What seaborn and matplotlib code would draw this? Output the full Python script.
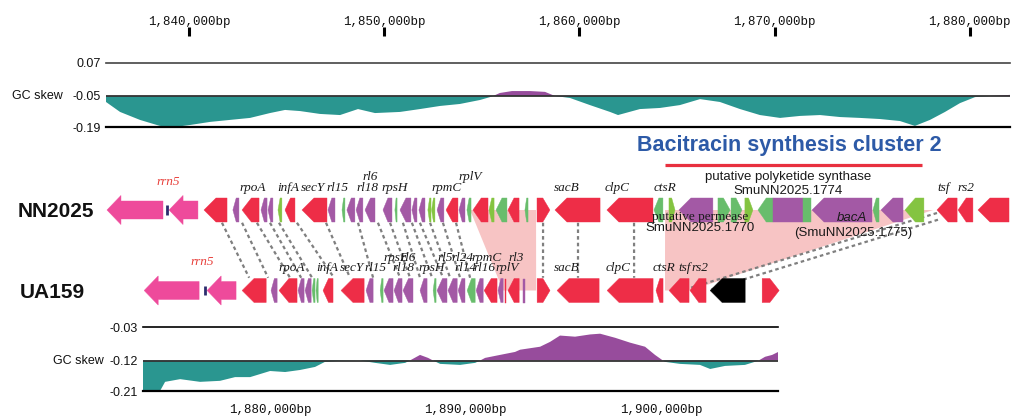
import numpy as np
import matplotlib
matplotlib.use("Agg")
import matplotlib.pyplot as plt
from matplotlib.patches import Polygon
from matplotlib.lines import Line2D
import seaborn as sns

# ---------------- data ----------------
# GC skew, NN2025 (positions in kb)
nn_gc_kb = [1835.75, 1836.47, 1837.49, 1838.51, 1839.28, 1840.05, 1841.08, 1842.10, 1843.13,
            1844.15, 1844.92, 1845.69, 1846.71, 1847.74, 1848.66, 1849.53, 1850.81, 1851.83,
            1852.86, 1853.88, 1854.91, 1855.42, 1855.93, 1856.55, 1857.47, 1858.24, 1858.75,
            1859.52, 1860.54, 1861.57, 1861.98, 1863.10, 1864.13, 1865.15, 1866.18, 1867.20,
            1868.23, 1869.25, 1870.28, 1871.30, 1872.33, 1873.35, 1874.38, 1875.40, 1876.42,
            1877.19, 1877.96, 1878.73, 1879.50, 1880.27, 1881.04, 1882.06]
nn_gc = [-0.077, -0.122, -0.158, -0.185, -0.190, -0.181, -0.167, -0.158, -0.149,
         -0.127, -0.113, -0.118, -0.131, -0.136, -0.109, -0.127, -0.122, -0.109,
         -0.095, -0.086, -0.068, -0.055, -0.039, -0.032, -0.032, -0.035, -0.050,
         -0.059, -0.091, -0.122, -0.136, -0.109, -0.104, -0.091, -0.064, -0.077,
         -0.109, -0.136, -0.149, -0.140, -0.136, -0.145, -0.149, -0.154, -0.163,
         -0.185, -0.158, -0.122, -0.082, -0.055, -0.050, -0.046]

# GC skew, UA159
ua_gc_kb = [1873.50, 1874.37, 1874.63, 1875.40, 1876.42, 1877.44, 1878.21, 1878.98, 1880.00,
            1880.77, 1881.53, 1882.30, 1882.81, 1883.58, 1884.60, 1885.37, 1886.14, 1886.91,
            1887.67, 1888.08, 1888.70, 1889.72, 1890.49, 1891.00, 1891.76, 1892.53, 1892.79,
            1893.81, 1894.32, 1894.83, 1895.60, 1896.37, 1896.88, 1897.65, 1898.41, 1899.18,
            1899.69, 1900.20, 1900.97, 1901.99, 1902.51, 1903.27, 1904.29, 1904.96, 1905.32,
            1905.68, 1905.99]
ua_gc = [-0.207, -0.210, -0.183, -0.175, -0.183, -0.180, -0.169, -0.169, -0.151,
         -0.154, -0.148, -0.139, -0.124, -0.121, -0.120, -0.127, -0.133, -0.127,
         -0.105, -0.113, -0.130, -0.133, -0.127, -0.113, -0.105, -0.097, -0.091,
         -0.083, -0.070, -0.053, -0.056, -0.050, -0.048, -0.059, -0.072, -0.083,
         -0.105, -0.124, -0.130, -0.133, -0.145, -0.136, -0.133, -0.121, -0.110,
         -0.105, -0.097]

# genes NN2025 (kb)
nn_start = [1835.80, 1838.98, 1840.77, 1842.25, 1842.72, 1843.69, 1844.05, 1844.56, 1844.92,
            1845.79, 1847.12, 1847.84, 1848.09, 1848.56, 1849.02, 1849.94, 1850.55, 1850.81,
            1851.42, 1851.78, 1852.24, 1852.43, 1852.71, 1853.17, 1853.83, 1854.24, 1854.55,
            1855.37, 1855.73, 1856.34, 1857.21, 1857.83, 1858.75, 1861.41, 1863.82, 1864.59,
            1865.10, 1867.10, 1867.77, 1868.48, 1869.15, 1869.92, 1871.46, 1871.92, 1875.04,
            1875.45, 1876.68, 1878.32, 1879.40, 1880.42]
nn_end = [1838.67, 1840.46, 1841.95, 1842.56, 1843.59, 1844.00, 1844.30, 1844.76, 1845.43,
          1847.07, 1847.48, 1847.99, 1848.50, 1848.91, 1849.53, 1850.40, 1850.66, 1851.37,
          1851.68, 1852.09, 1852.40, 1852.60, 1853.06, 1853.78, 1854.14, 1854.45, 1855.32,
          1855.63, 1856.29, 1856.91, 1857.37, 1858.49, 1861.06, 1863.77, 1864.28, 1864.90,
          1866.84, 1867.72, 1868.33, 1868.89, 1869.92, 1871.46, 1871.87, 1874.99, 1875.35,
          1876.58, 1877.65, 1879.35, 1880.16, 1882.01]
nn_strand = [-1, -1, -1, -1, -1, -1, -1, -1, -1,
             -1, -1, -1, -1, -1, -1, -1, -1, -1,
             -1, -1, -1, -1, -1, -1, -1, -1, -1,
             -1, -1, -1, -1, 1, -1, -1, -1, 1,
             -1, 1, 1, 1, -1, 0, 0, -1, -1,
             -1, -1, -1, -1, -1]
nn_kind = ["pink", "pink", "red", "purple", "red", "purple", "purple", "lime", "red",
           "red", "purple", "green", "purple", "purple", "purple", "purple", "green", "purple",
           "purple", "purple", "lime", "lime", "purple", "red", "purple", "green", "red",
           "lime", "green", "red", "green", "red", "red", "red", "green", "lime",
           "purple", "green", "green", "lime", "green", "purple", "green", "purple", "green",
           "purple", "lime", "red", "red", "red"]
nn_rrn_tick = [1838.87]

# genes UA159 (kb)
ua_start = [1873.56, 1876.78, 1878.57, 1880.05, 1880.46, 1881.43, 1881.79, 1882.15, 1882.35,
            1882.71, 1883.63, 1884.91, 1885.63, 1885.83, 1886.34, 1886.80, 1887.67, 1888.34,
            1888.54, 1889.10, 1889.62, 1890.08, 1890.54, 1890.95, 1891.66, 1892.02, 1892.17,
            1892.94, 1893.66, 1894.68, 1897.24, 1899.74, 1900.41, 1901.48, 1902.51, 1905.17]
ua_end = [1876.37, 1878.26, 1879.80, 1880.36, 1881.38, 1881.74, 1882.10, 1882.30, 1882.46,
          1883.22, 1884.81, 1885.27, 1885.78, 1886.29, 1886.75, 1887.31, 1888.03, 1888.49,
          1889.05, 1889.57, 1889.97, 1890.49, 1890.90, 1891.61, 1891.92, 1892.07, 1892.74,
          1893.04, 1894.32, 1896.83, 1899.59, 1900.10, 1901.43, 1902.30, 1904.30, 1906.04]
ua_strand = [-1, -1, -1, -1, -1, -1, -1, -1, -1,
             -1, -1, -1, -1, -1, -1, -1, -1, -1,
             -1, -1, -1, -1, -1, -1, -1, 0, -1,
             0, 1, -1, -1, -1, -1, -1, -1, 1]
ua_kind = ["pink", "pink", "red", "purple", "red", "purple", "purple", "green", "green",
           "red", "red", "purple", "green", "purple", "purple", "purple", "purple", "green",
           "purple", "purple", "purple", "green", "purple", "red", "purple", "red", "red",
           "purple", "red", "red", "red", "red", "red", "red", "black", "red"]
ua_rrn_tick = [1876.68]

# gene labels
nn_labels = ["rrn5", "rpoA", "infA", "secY", "rl15", "rl18", "rl6", "rpsH", "rpmC", "rplV",
             "sacB", "clpC", "ctsR", "tsf", "rs2"]
nn_label_kb = [1838.92, 1843.28, 1845.07, 1846.35, 1847.63, 1849.12, 1849.27, 1850.55, 1853.22,
               1854.40, 1859.36, 1861.93, 1864.39, 1878.68, 1879.81]
nn_label_upper = [2, 0, 0, 0, 0, 0, 1, 0, 0, 1, 0, 0, 0, 0, 0]

ua_labels = ["rrn5", "rpoA", "infA", "secY", "rl15", "rl18", "rpsH", "rl14", "rl16", "rplV",
             "rpsE", "rl6", "rl5", "rl24", "rpmC", "rl3", "sacB", "clpC", "ctsR", "tsf", "rs2"]
ua_label_kb = [1876.52, 1881.13, 1882.92, 1884.19, 1885.37, 1886.80, 1888.29, 1889.97, 1890.95,
               1892.12, 1886.45, 1887.06, 1888.95, 1889.82, 1891.10, 1892.58, 1895.19, 1897.80,
               1900.15, 1901.18, 1901.99]
ua_label_upper = [2, 0, 0, 0, 0, 0, 0, 0, 0, 0, 1, 1, 1, 1, 1, 1, 0, 0, 0, 0, 0]

# homologous links (NN2025 kb -> UA159 kb)
link_nn_kb = [1841.69, 1842.72, 1843.48, 1844.15, 1844.61, 1845.53, 1847.02, 1848.66, 1849.68,
              1850.30, 1850.96, 1851.42, 1851.83, 1852.35, 1853.01, 1853.68, 1858.14, 1859.93,
              1862.80]
link_ua_kb = [1878.93, 1879.90, 1881.02, 1881.59, 1882.15, 1883.27, 1884.09, 1885.27, 1886.65,
              1887.16, 1887.67, 1888.29, 1888.85, 1889.21, 1889.72, 1890.23, 1893.96, 1895.75,
              1898.62]
shift_nn_kb = [1878.32, 1878.37]
shift_ua_kb = [1901.48, 1902.51]

# inserted regions (NN2025 start/end, UA159 start/end)
ins_nn = [(1854.40, 1857.78), (1864.39, 1878.12)]
ins_ua = [(1891.92, 1893.61), (1900.20, 1901.48)]

TOP_XLIM = (1835.75, 1882.06)
BOT_XLIM = (1873.50, 1905.98)

# ---------------- style ----------------
sns.set_theme(style="white")
plt.rcParams["font.family"] = ["Liberation Sans", "DejaVu Sans"]

COLORS = {"pink": "#ee4a9b", "red": "#ee2d47", "purple": "#a359a5", "green": "#68bd6c",
          "lime": "#84c441", "black": "#000000"}
TEAL = "#2a9690"
GCPURPLE = "#974c9c"
PINKFILL = "#f7c4c4"

W, H = 1024, 419
fig = plt.figure(figsize=(W / 100, H / 100), dpi=100)


def px_rect(l, t, r, b):
    return [l / W, 1 - b / H, (r - l) / W, (b - t) / H]


def make_scale(lo, base, hi, below_px, above_px):
    def fwd(v):
        v = np.asarray(v, float)
        return np.where(v <= base, (v - lo) / (base - lo) * below_px,
                        below_px + (v - base) / (hi - base) * above_px)

    def inv(p):
        p = np.asarray(p, float)
        return np.where(p <= below_px, lo + p / below_px * (base - lo),
                        base + (p - below_px) / above_px * (hi - base))
    return fwd, inv


def gc_panel(rect, xlim, kb, vals, lo, base, hi, below_px, above_px, ticks, top_color, gc_off):
    ax = fig.add_axes(rect)
    ax.set_yscale("function", functions=make_scale(lo, base, hi, below_px, above_px))
    ax.set_xlim(*xlim)
    ax.set_ylim(lo, hi)
    kb = np.asarray(kb)
    vals = np.asarray(vals)
    ax.fill_between(kb, vals, base, where=vals <= base, interpolate=True, color=TEAL, lw=0)
    ax.fill_between(kb, vals, base, where=vals >= base, interpolate=True, color=GCPURPLE, lw=0)
    ax.axhline(base, color="#333333", lw=1.3)
    sns.despine(ax=ax, left=True, right=True, top=False, bottom=False)
    ax.spines["top"].set_color(top_color)
    ax.spines["top"].set_linewidth(1.2)
    ax.spines["bottom"].set_color("black")
    ax.spines["bottom"].set_linewidth(1.6)
    ax.set_xticks([])
    ax.set_yticks(ticks)
    ax.set_yticklabels([f"{t:.2f}" for t in ticks])
    ax.tick_params(axis="y", length=0, labelsize=9, pad=4, labelcolor="#111111")
    ax.set_facecolor("white")
    ax.annotate("GC skew", xy=(0, base), xycoords=("axes fraction", "data"),
                xytext=(gc_off, 0), textcoords="offset pixels", ha="right", va="center",
                fontsize=9, color="#111111", annotation_clip=False)
    return ax


def scale_panel(rect, xlim, ticks, top):
    ax = fig.add_axes(rect)
    ax.set_xlim(*xlim)
    ax.patch.set_visible(False)
    for s in ax.spines.values():
        s.set_visible(False)
    ax.set_yticks([])
    ax.set_xticks(ticks)
    ax.set_xticklabels([f"{int(round(t * 1000)):,}bp" for t in ticks],
                       fontfamily="Liberation Mono", fontsize=9)
    if top:
        ax.xaxis.tick_top()
        ax.tick_params(axis="x", direction="out", length=6.5, width=2.2, pad=-0.5,
                       color="black", labelcolor="#111111")
    else:
        ax.tick_params(axis="x", direction="out", length=5.8, width=2.2, pad=-2.5,
                       color="black", labelcolor="#111111")
    return ax


def gene_track(rect, xlim, starts, ends, strands, kinds, ticks):
    ax = fig.add_axes(rect)
    ax.set_xlim(*xlim)
    ax.set_ylim(-1, 1)
    ax.axis("off")
    kbpx = (xlim[1] - xlim[0]) / (rect[2] * W)
    for s, e, st, k in zip(starts, ends, strands, kinds):
        L = e - s
        if k == "pink":
            hl, body, head = min(14 * kbpx, 0.55 * L), 0.6, 0.97
        else:
            hl, body, head = min(12 * kbpx, 0.55 * L), 0.8, 0.8
        if st == -1:
            pts = [(s, 0), (s + hl, head), (s + hl, body), (e, body), (e, -body),
                   (s + hl, -body), (s + hl, -head)]
        elif st == 1:
            pts = [(e, 0), (e - hl, head), (e - hl, body), (s, body), (s, -body),
                   (e - hl, -body), (e - hl, -head)]
        else:
            pts = [(s, body), (e, body), (e, -body), (s, -body)]
        ax.add_patch(Polygon(pts, closed=True, facecolor=COLORS[k], edgecolor=COLORS[k],
                             lw=0.3, clip_on=False))
    for t in ticks:
        ax.plot([t, t], [-0.33, 0.33], color="#2b2d6e", lw=2, solid_capstyle="butt")
    return ax


def gene_labels(ax, names, kbs, uppers, ys):
    for n, x, u in zip(names, kbs, uppers):
        col = "#e8413c" if n == "rrn5" else "#1a1a1a"
        ax.text(x, ys[u], n, ha="center", va="center", fontsize=9.5,
                fontfamily="Liberation Serif", fontstyle="italic", color=col, clip_on=False)


# ---------------- panels ----------------
scale_panel(px_rect(106, 36, 1010, 37), TOP_XLIM, [1840, 1850, 1860, 1870, 1880], True)
scale_panel(px_rect(143, 398, 778, 399), BOT_XLIM, [1880, 1890, 1900], False)

gc_panel(px_rect(106, 63, 1010, 127), TOP_XLIM, nn_gc_kb, nn_gc, -0.19, -0.05, 0.07,
         31, 33, [0.07, -0.05, -0.19], "#444444", -43)
gc_panel(px_rect(143, 327, 778, 391), BOT_XLIM, ua_gc_kb, ua_gc, -0.21, -0.12, -0.03,
         30.5, 33.5, [-0.03, -0.12, -0.21], "black", -39)

axg1 = gene_track(px_rect(106, 195, 1010, 225), TOP_XLIM, nn_start, nn_end, nn_strand,
                  nn_kind, nn_rrn_tick)
axg2 = gene_track(px_rect(143, 275.5, 778, 305.5), BOT_XLIM, ua_start, ua_end, ua_strand,
                  ua_kind, ua_rrn_tick)

gene_labels(axg1, nn_labels, nn_label_kb, nn_label_upper, [1.47, 2.17, 1.87])
gene_labels(axg2, ua_labels, ua_label_kb, ua_label_upper, [1.5, 2.17, 1.9])

# annotations for the cluster
axg1.text(1870.69, 2.2, "putative polyketide synthase", ha="center", va="center",
          fontsize=9.5, color="#1a1a1a", clip_on=False)
axg1.text(1870.69, 1.27, "SmuNN2025.1774", ha="center", va="center",
          fontsize=9.5, color="#1a1a1a", clip_on=False)
axg1.text(1866.18, -0.47, "putative permease", ha="center", va="center",
          fontsize=9.5, fontfamily="Liberation Serif", color="#1a1a1a", clip_on=False)
axg1.text(1866.18, -1.2, "SmuNN2025.1770", ha="center", va="center",
          fontsize=9.5, color="#1a1a1a", clip_on=False)
axg1.text(1873.97, -0.53, "bacA", ha="center", va="center", fontstyle="italic",
          fontsize=9.5, color="#1a1a1a", clip_on=False)
axg1.text(1874.02, -1.53, "(SmuNN2025.1775)", ha="center", va="center",
          fontsize=9.5, color="#1a1a1a", clip_on=False)
axg1.text(1870.74, 4.27, "Bacitracin synthesis cluster 2", ha="center", va="center",
          fontsize=15.5, fontweight="bold", color="#2d5aa7", clip_on=False)
axg1.plot([1864.39, 1877.55], [3.0, 3.0], color="#e8303f", lw=2.3, clip_on=False,
          solid_capstyle="butt")

fig.text(18 / W, 1 - 211 / H, "NN2025", ha="left", va="center", fontsize=15,
         fontweight="bold", color="#111111")
fig.text(20 / W, 1 - 293 / H, "UA159", ha="left", va="center", fontsize=15,
         fontweight="bold", color="#111111")

# ---------------- links between genomes ----------------
inv = fig.transFigure.inverted()


def to_fig(ax, x, y):
    return inv.transform(ax.transData.transform((x, y)))


for (a0, a1), (b0, b1) in zip(ins_nn, ins_ua):
    pts = [to_fig(axg1, a0, 0), to_fig(axg1, a1, 0), to_fig(axg2, b1, 0), to_fig(axg2, b0, 0)]
    fig.add_artist(Polygon(pts, closed=True, facecolor=PINKFILL, edgecolor="none",
                           transform=fig.transFigure, zorder=-2))

for a, b in zip(link_nn_kb, link_ua_kb):
    p1 = to_fig(axg1, a, -0.85)
    p2 = to_fig(axg2, b, 0.85)
    fig.add_artist(Line2D([p1[0], p2[0]], [p1[1], p2[1]], transform=fig.transFigure,
                          color="#7f7f7f", lw=1.6, ls=(0, (1.6, 1.4)), zorder=-1))

for a, b, ya, yb in zip(shift_nn_kb, shift_ua_kb, [-0.2, -0.65], [0.17, 0.05]):
    p1 = to_fig(axg1, a, ya)
    p2 = to_fig(axg2, b, yb)
    fig.add_artist(Line2D([p1[0], p2[0]], [p1[1], p2[1]], transform=fig.transFigure,
                          color="#7f7f7f", lw=1.6, ls=(0, (1.6, 1.4)), zorder=-1))

fig.savefig("out.png", dpi=100, facecolor="white")
